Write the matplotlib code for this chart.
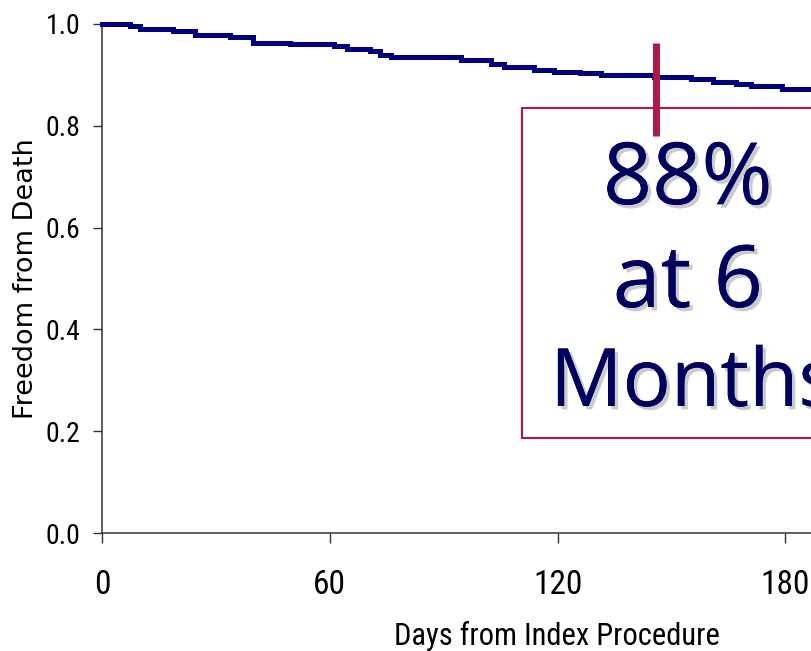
import matplotlib
matplotlib.use("Agg")
import matplotlib.pyplot as plt
import matplotlib.patheffects as pe
from matplotlib.patches import Rectangle

# ---- data ----
days = [0, 7.4, 10, 18.7, 24.5, 33.8, 39.8, 41.7, 49.6, 61, 64.6, 70.7, 73.3, 76,
        94.5, 102.4, 105.8, 113.7, 119, 126, 131.4, 145.4, 155, 161, 167, 171, 179, 181.5, 187]
survival = [1.0, 0.9966, 0.9896, 0.986, 0.978, 0.974, 0.963, 0.962, 0.960, 0.957, 0.950,
            0.946, 0.940, 0.935, 0.929, 0.921, 0.916, 0.910, 0.906, 0.903, 0.900, 0.895,
            0.891, 0.887, 0.882, 0.878, 0.873, 0.872, 0.872]
x_ticks = [0, 60, 120, 180]
y_ticks = [0.0, 0.2, 0.4, 0.6, 0.8, 1.0]
y_ticklabels = ["0.0", "0.2", "0.4", "0.6", "0.8", "1.0"]
marker_day = 146
marker_range = [0.963, 0.78]
box_x0, box_y0, box_y1 = 110.5, 0.187, 0.835
annot_lines = ["88%", "at 6", "Months"]
annot_baselines = [0.646, 0.444, 0.2495]
annot_x = [154.3, 154.3, 118.0]
annot_ha = ["center", "center", "left"]
annot_size = [62, 62, 58]

narrow = ["Roboto Condensed", "Open Sans Condensed", "DejaVu Sans"]

fig = plt.figure(figsize=(8.11, 6.51), dpi=100)
ax = fig.add_axes([102/811, 118/651, 709/811, 509/651])

ax.set_xlim(0, 709/3.797)
ax.set_ylim(0, 1.0)

# box
rect = Rectangle((box_x0, box_y0), 200, box_y1 - box_y0, facecolor="white",
                 edgecolor="#AE1A45", linewidth=1.5, zorder=2)
ax.add_patch(rect)

# curve
ax.plot(days, survival, drawstyle="steps-post", color="#000080", linewidth=3.6,
        solid_joinstyle="miter", clip_on=False, zorder=4)

# marker line
ax.plot([marker_day, marker_day], marker_range, color="#AE1A45", linewidth=5.0,
        solid_capstyle="butt", zorder=5)

# annotation text
for line, xb, yb, ha, fs in zip(annot_lines, annot_x, annot_baselines, annot_ha, annot_size):
    ax.text(xb, yb, line, ha=ha, va="baseline", fontsize=fs,
            family=["Open Sans", "DejaVu Sans"], color="#00005E", zorder=6,
            path_effects=[pe.withSimplePatchShadow(offset=(2.5, -2.5),
                                                   shadow_rgbFace="#999999", alpha=0.5),
                          pe.Normal()])

# axes styling
for s in ["top", "right"]:
    ax.spines[s].set_visible(False)
for s in ["left", "bottom"]:
    ax.spines[s].set_color("#333333")
    ax.spines[s].set_linewidth(1.1)

ax.set_xticks(x_ticks)
ax.set_xticklabels([str(t) for t in x_ticks], family=narrow, fontsize=24, fontweight="normal")
ax.set_yticks(y_ticks)
ax.set_yticklabels(y_ticklabels, family=narrow, fontsize=20, fontweight="normal")
ax.tick_params(axis="x", direction="out", length=7, width=1.0, color="#333333", pad=19)
ax.tick_params(axis="y", direction="out", length=6.5, width=1.0, color="#333333", pad=9)

ax.set_xlabel("Days from Index Procedure", family=narrow, fontsize=22, fontweight="normal",
              va="baseline")
ax.xaxis.set_label_coords((557-102)/709, -(645-533)/509)

ax.set_ylabel("Freedom from Death", family="DejaVu Sans", fontsize=19.5, va="baseline")
ax.yaxis.set_label_coords(-(102-33)/709, 0.5)

fig.savefig("out.png", dpi=100)
